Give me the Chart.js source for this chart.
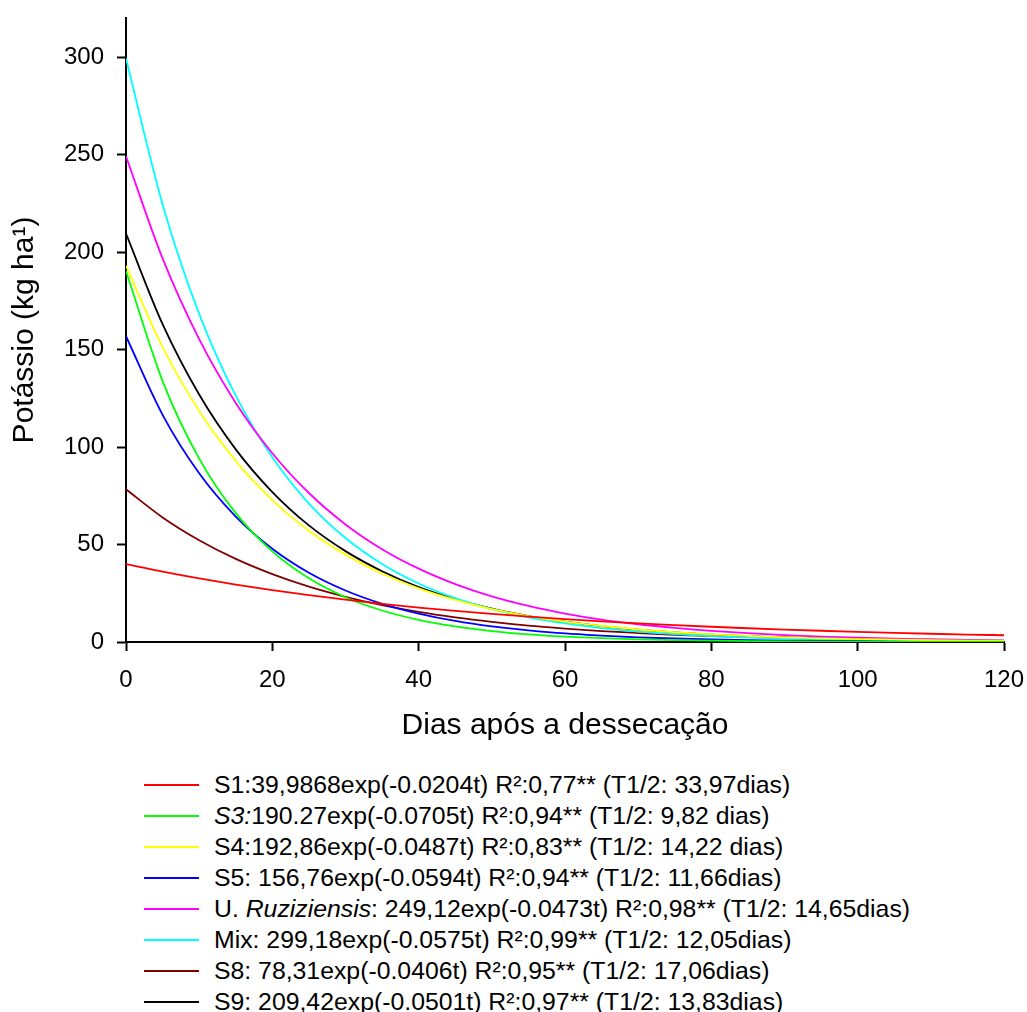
<!DOCTYPE html>
<html>
<head>
<meta charset="utf-8">
<script src="https://cdn.jsdelivr.net/npm/chart.js@4"></script>
<style>
  body { margin: 0; background: #fff; font-family: "Liberation Sans", Arial, sans-serif; }
  #wrap { position: relative; width: 1027px; height: 1012px; }
  #legend { position: absolute; left: 0; top: 769px; font-size: 24.8px; color: #000; }
  .row { display: flex; align-items: center; height: 31px; white-space: nowrap; }
  .sample { display: inline-block; width: 55px; height: 0; border-top: 2px solid; margin-left: 144px; margin-right: 15px; }
</style>
</head>
<body>
<div id="wrap">
  <canvas id="chart" width="1027" height="760"></canvas>
  <div id="legend"></div>
</div>
<script>
// days after desiccation, and values
const days = [0, 5, 10, 15, 20, 25, 30, 35, 40, 45, 50, 55, 60, 65, 70, 75, 80, 85, 90, 95, 100, 105, 110, 115, 120];

const s1  = [39.99, 36.11, 32.61, 29.44, 26.59, 24.01, 21.68, 19.58, 17.68, 15.96, 14.42, 13.02, 11.75, 10.61, 9.59, 8.66, 7.82, 7.06, 6.37, 5.76, 5.20, 4.69, 4.24, 3.83, 3.46];
const s3  = [190.3, 133.8, 94.04, 66.11, 46.48, 32.67, 22.97, 16.15, 11.35, 7.98, 5.61, 3.94, 2.77, 1.95, 1.37, 0.96, 0.68, 0.48, 0.33, 0.24, 0.17, 0.12, 0.08, 0.06, 0.04];
const s4  = [192.9, 151.2, 118.5, 92.9, 72.8, 57.1, 44.8, 35.1, 27.5, 21.6, 16.9, 13.3, 10.4, 8.2, 6.4, 5.0, 3.9, 3.1, 2.4, 1.9, 1.5, 1.2, 0.9, 0.7, 0.6];
const s5  = [156.8, 116.5, 86.5, 64.3, 47.8, 35.5, 26.4, 19.6, 14.6, 10.8, 8.0, 6.0, 4.4, 3.3, 2.4, 1.8, 1.35, 1.0, 0.75, 0.56, 0.41, 0.31, 0.23, 0.17, 0.13];
const ruz = [249.1, 196.7, 155.3, 122.6, 96.8, 76.4, 60.3, 47.6, 37.6, 29.7, 23.4, 18.5, 14.6, 11.5, 9.1, 7.2, 5.7, 4.5, 3.5, 2.8, 2.2, 1.7, 1.4, 1.1, 0.86];
const mix = [299.2, 224.4, 168.3, 126.3, 94.7, 71.0, 53.3, 40.0, 30.0, 22.5, 16.9, 12.6, 9.5, 7.1, 5.3, 4.0, 3.0, 2.3, 1.7, 1.3, 0.95, 0.71, 0.54, 0.40, 0.30];
const s8  = [78.3, 63.9, 52.2, 42.6, 34.8, 28.4, 23.2, 18.9, 15.4, 12.6, 10.3, 8.4, 6.9, 5.6, 4.6, 3.7, 3.0, 2.5, 2.0, 1.7, 1.35, 1.1, 0.9, 0.74, 0.60];
const s9  = [209.4, 163.0, 126.9, 98.8, 76.9, 59.8, 46.6, 36.3, 28.2, 22.0, 17.1, 13.3, 10.4, 8.1, 6.3, 4.9, 3.8, 2.96, 2.3, 1.8, 1.4, 1.1, 0.85, 0.66, 0.51];

const seriesNames = [
    'S1:39,9868exp(-0.0204t) R²:0,77** (T1/2: 33,97dias)',
    '<i>S3:</i>190.27exp(-0.0705t) R²:0,94** (T1/2: 9,82 dias)',
    'S4:192,86exp(-0.0487t) R²:0,83** (T1/2: 14,22 dias)',
    'S5: 156,76exp(-0.0594t) R²:0,94** (T1/2: 11,66dias)',
    'U. <i>Ruziziensis</i>: 249,12exp(-0.0473t) R²:0,98** (T1/2: 14,65dias)',
    'Mix: 299,18exp(-0.0575t) R²:0,99** (T1/2: 12,05dias)',
    'S8: 78,31exp(-0.0406t) R²:0,95** (T1/2: 17,06dias)',
    'S9: 209,42exp(-0.0501t) R²:0,97** (T1/2: 13,83dias)'
];
const seriesValues = [s1, s3, s4, s5, ruz, mix, s8, s9];
const seriesColors = ['#ff0000', '#00ff00', '#ffff00', '#0000ff', '#ff00ff', '#00ffff', '#800000', '#000000'];

const yTicks = [0, 50, 100, 150, 200, 250, 300];
const xTicks = [0, 20, 40, 60, 80, 100, 120];

const font = '"Liberation Sans", Arial, sans-serif';

const datasets = seriesValues.map((vals, i) => ({
    label: seriesNames[i].replace(/<\/?i>/g, ''),
    data: days.map((d, j) => ({ x: d, y: vals[j] })),
    borderColor: seriesColors[i],
    borderWidth: 1.8,
    pointRadius: 0,
    fill: false,
    cubicInterpolationMode: 'monotone'
}));

new Chart(document.getElementById('chart').getContext('2d'), {
    type: 'line',
    data: { datasets: datasets },
    options: {
        responsive: false,
        animation: false,
        layout: { padding: { top: 18, right: 23, left: 0, bottom: 0 } },
        plugins: { legend: { display: false }, tooltip: { enabled: false } },
        scales: {
            x: {
                type: 'linear',
                min: 0,
                max: 120,
                afterBuildTicks: scale => { scale.ticks = xTicks.map(v => ({ value: v })); },
                afterFit: scale => {
                    scale.height = 118;
                    scale.paddingLeft = 0;
                    scale.paddingRight = 0;
                },
                grid: { drawOnChartArea: false, tickLength: 9, tickColor: '#000', tickWidth: 2 },
                border: { color: '#000', width: 2 },
                ticks: { color: '#000', font: { family: font, size: 24 }, padding: 15, maxRotation: 0 },
                title: { display: true, text: 'Dias após a dessecação', color: '#000', font: { family: font, size: 30 }, padding: { top: 0, bottom: 16 } }
            },
            y: {
                min: 0,
                max: 320,
                afterBuildTicks: scale => { scale.ticks = yTicks.map(v => ({ value: v })); },
                afterFit: scale => {
                    scale.width = 126;
                    scale.paddingTop = 0;
                    scale.paddingBottom = 0;
                },
                grid: { drawOnChartArea: false, tickLength: 9, tickColor: '#000', tickWidth: 2 },
                border: { color: '#000', width: 2 },
                ticks: { color: '#000', font: { family: font, size: 24 }, padding: 13 },
                title: { display: true, text: 'Potássio (kg ha¹)', color: '#000', font: { family: font, size: 30 }, padding: { top: 7, bottom: 0 } }
            }
        }
    }
});

const legend = document.getElementById('legend');
seriesNames.forEach((name, i) => {
    const row = document.createElement('div');
    row.className = 'row';
    row.innerHTML = '<span class="sample" style="border-color:' + seriesColors[i] + '"></span><span>' + name + '</span>';
    legend.appendChild(row);
});
</script>
</body>
</html>
